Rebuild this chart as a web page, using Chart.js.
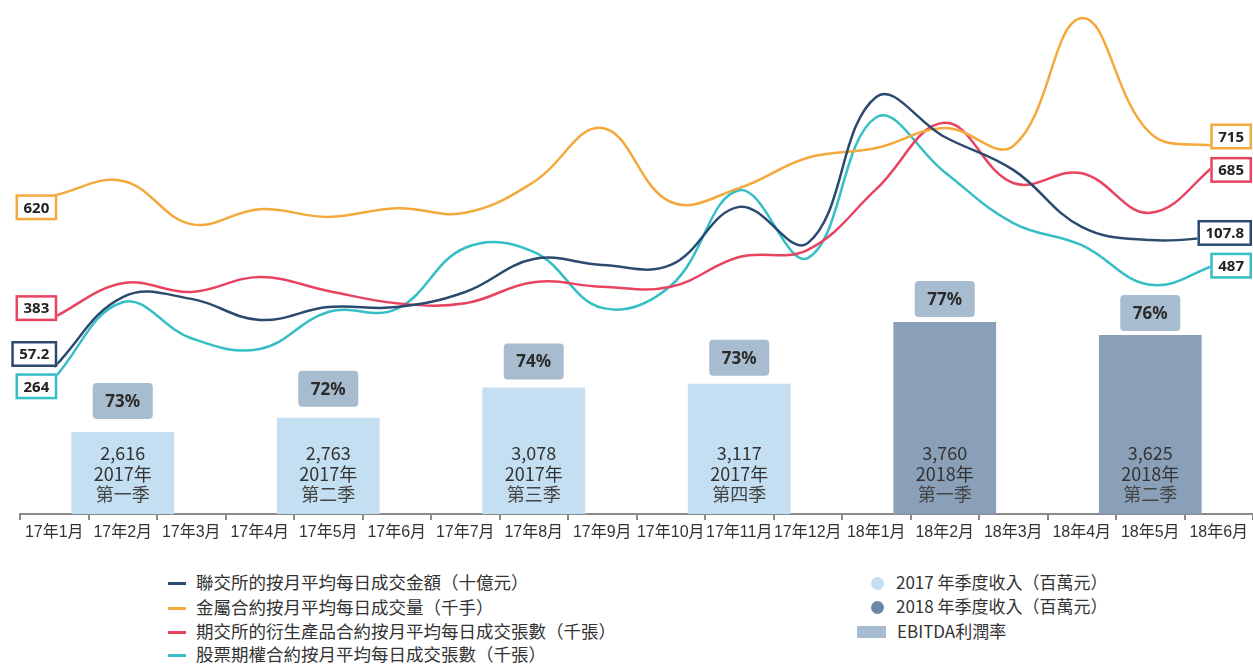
<!DOCTYPE html>
<html>
<head>
<meta charset="utf-8">
<script src="https://cdn.jsdelivr.net/npm/chart.js@4.4.0/dist/chart.umd.min.js"></script>
<style>
  body { margin: 0; background: #fff; font-family: "Noto Sans CJK TC", "Noto Sans", sans-serif; color: #333; }
  #wrap { position: relative; width: 1253px; height: 664px; overflow: hidden; }
  #box { position: absolute; left: 0; top: 0; width: 1253px; height: 550px; }
  .leg { position: absolute; white-space: nowrap; height: 24px; line-height: 24px; }
  .leg.left { left: 168px; font-size: 17.5px; }
  .leg.right { left: 852px; font-size: 17px; }
  .sw-line { display: inline-block; width: 18px; height: 3px; vertical-align: middle; margin-right: 10px; position: relative; top: -1px; }
  .sw-dot { display: inline-block; width: 13px; height: 13px; border-radius: 50%; vertical-align: middle; margin: 0 12px 0 19px; position: relative; top: -1px; }
  .sw-rect { display: inline-block; width: 29px; height: 12px; vertical-align: middle; margin: 0 11px 0 5px; position: relative; top: -1px; }
</style>
</head>
<body>
<div id="wrap">
  <div id="box"><canvas id="myChart"></canvas></div>

  <div class="leg left" style="top:570px"><span class="sw-line" style="background:#2b4a6f"></span>聯交所的按月平均每日成交金額（十億元）</div>
  <div class="leg left" style="top:595px"><span class="sw-line" style="background:#f3a93b"></span>金屬合約按月平均每日成交量（千手）</div>
  <div class="leg left" style="top:619px"><span class="sw-line" style="background:#e84461"></span>期交所的衍生產品合約按月平均每日成交張數（千張）</div>
  <div class="leg left" style="top:642px"><span class="sw-line" style="background:#35bec5"></span>股票期權合約按月平均每日成交張數（千張）</div>

  <div class="leg right" style="top:570px"><span class="sw-dot" style="background:#c4dff1"></span>2017 年季度收入（百萬元）</div>
  <div class="leg right" style="top:594px"><span class="sw-dot" style="background:#6a87a8"></span>2018 年季度收入（百萬元）</div>
  <div class="leg right" style="top:619px"><span class="sw-rect" style="background:#a7bccf"></span>EBITDA利潤率</div>
</div>

<script>
// monthly categories
const months = ['17年1月', '17年2月', '17年3月', '17年4月', '17年5月', '17年6月',
    '17年7月', '17年8月', '17年9月', '17年10月', '17年11月', '17年12月',
    '18年1月', '18年2月', '18年3月', '18年4月', '18年5月', '18年6月'];

// line series
const turnover = [57.2, 84.4, 83.7, 75.5, 80.5, 80.5, 86.4, 99.2, 96.9, 96.9, 119.5, 105.4, 162.3, 146.7, 133.9, 111.7, 106.6, 107.8];
const metals = [620, 648, 564, 593, 578, 595, 586, 646, 751, 607, 634, 693, 712, 751, 716, 965, 741, 715];
const hkfe = [383, 449, 432, 461, 434, 410, 410, 451, 442, 442, 500, 514, 632, 761, 644, 663, 586, 685];
const stockOptions = [264, 412, 342, 321, 393, 399, 518, 510, 401, 444, 630, 498, 772, 665, 566, 523, 446, 487];

// quarterly bars
const quarters = ['2017Q1', '2017Q2', '2017Q3', '2017Q4', '2018Q1', '2018Q2'];
const quarterYears = ['2017年', '2017年', '2017年', '2017年', '2018年', '2018年'];
const quarterNames = ['第一季', '第二季', '第三季', '第四季', '第一季', '第二季'];
const revenue = [2616, 2763, 3078, 3117, 3760, 3625];
const ebitda = [73, 72, 74, 73, 77, 76];

const barColors = quarterYears.map(y => y === '2017年' ? '#c4dff1' : '#8aa0b8');

function drawBox(ctx, text, rightX, cy, color) {
    const w = ctx.measureText(text).width + 16;
    const h = 26;
    const x = rightX - w;
    const y = cy - h / 2;
    ctx.fillStyle = '#fff';
    ctx.fillRect(x, y, w, h);
    ctx.lineWidth = 2.5;
    ctx.strokeStyle = color;
    ctx.strokeRect(x + 1.25, y + 1.25, w - 2.5, h - 2.5);
    ctx.fillStyle = '#222';
    ctx.fillText(text, x + w / 2, cy + 1);
}

// first / last value boxes on each line
const endLabels = {
    id: 'endLabels',
    afterDatasetsDraw(chart, args, opts) {
        const ctx = chart.ctx;
        ctx.save();
        ctx.font = 'bold 15px "Noto Sans", sans-serif';
        ctx.textAlign = 'center';
        ctx.textBaseline = 'middle';
        chart.data.datasets.forEach((ds, i) => {
            if (ds.type !== 'line') return;
            const pts = chart.getDatasetMeta(i).data;
            const first = pts[0];
            const last = pts[pts.length - 1];
            const off = opts.offsets[i];
            drawBox(ctx, String(ds.data[0]), first.x + 3, first.y + off[0], ds.borderColor);
            drawBox(ctx, String(ds.data[ds.data.length - 1]), chart.chartArea.right - 1, last.y + off[1], ds.borderColor);
        });
        ctx.restore();
    }
};

// revenue text inside bars + EBITDA margin boxes above
const barLabels = {
    id: 'barLabels',
    afterDatasetsDraw(chart, args, opts) {
        const ctx = chart.ctx;
        const idx = chart.data.datasets.findIndex(d => d.type === 'bar');
        const bars = chart.getDatasetMeta(idx).data;
        const bottom0 = chart.chartArea.bottom;
        ctx.save();
        ctx.textAlign = 'center';
        ctx.textBaseline = 'middle';
        bars.forEach((b, i) => {
            ctx.fillStyle = '#333';
            ctx.font = '18px "Noto Sans CJK TC", sans-serif';
            ctx.fillText(revenue[i].toLocaleString('en-US'), b.x, bottom0 - 61);
            ctx.fillText(quarterYears[i], b.x, bottom0 - 40);
            ctx.fillStyle = '#444';
            ctx.fillText(quarterNames[i], b.x, bottom0 - 20);

            const bw = 60, bh = 36;
            const bottom = b.y - opts.gaps[i];
            ctx.fillStyle = '#a7bccf';
            ctx.beginPath();
            ctx.roundRect(b.x - bw / 2, bottom - bh, bw, bh, 4);
            ctx.fill();
            ctx.fillStyle = '#2a2a2a';
            ctx.font = 'bold 17px "Noto Sans", sans-serif';
            ctx.fillText(ebitda[i] + '%', b.x, bottom - bh / 2 + 1);
        });
        ctx.restore();
    }
};

const lineStyle = { type: 'line', borderWidth: 2.5, pointRadius: 0, tension: 0.4, fill: false, order: 1 };

const ctx = document.getElementById('myChart').getContext('2d');
const myChart = new Chart(ctx, {
    data: {
        labels: months,
        datasets: [
            { ...lineStyle, label: '聯交所的按月平均每日成交金額（十億元）', data: turnover, borderColor: '#2b4a6f', yAxisID: 'yB' },
            { ...lineStyle, label: '金屬合約按月平均每日成交量（千手）', data: metals, borderColor: '#f3a93b', yAxisID: 'yK' },
            { ...lineStyle, label: '期交所的衍生產品合約按月平均每日成交張數（千張）', data: hkfe, borderColor: '#e84461', yAxisID: 'yK' },
            { ...lineStyle, label: '股票期權合約按月平均每日成交張數（千張）', data: stockOptions, borderColor: '#35bec5', yAxisID: 'yK' },
            {
                type: 'bar',
                label: '季度收入',
                data: revenue,
                backgroundColor: barColors,
                xAxisID: 'xQ',
                yAxisID: 'yR',
                grouped: false,
                barPercentage: 0.5,
                categoryPercentage: 1,
                order: 10
            }
        ]
    },
    options: {
        responsive: true,
        maintainAspectRatio: false,
        animation: false,
        layout: { padding: { left: 20, right: 0, top: 0, bottom: 0 } },
        plugins: {
            legend: { display: false },
            tooltip: { enabled: false },
            endLabels: { offsets: [[-13, -4], [12, -10], [-9, 8], [8, 2]] },
            barLabels: { gaps: [13, 11, 8, 8, 5, 4] }
        },
        scales: {
            x: {
                type: 'category',
                offset: true,
                grid: { offset: true, drawOnChartArea: false, drawTicks: true, tickLength: 6, color: '#8a8a8a', lineWidth: 2 },
                border: { display: true, color: '#8a8a8a', width: 2 },
                ticks: {
                    autoSkip: false, maxRotation: 0, minRotation: 0, padding: 3,
                    color: '#333',
                    font: { family: '"Liberation Sans", "Noto Sans CJK TC", sans-serif', size: 16 }
                },
                afterFit: (scale) => { scale.height = 36; }
            },
            xQ: { type: 'category', labels: quarters, offset: true, display: false },
            yK: { display: false, min: 0, max: 1000 },
            yB: { display: false, min: 0, max: 200 },
            yR: { display: false, min: 1763, max: 7110 }
        }
    },
    plugins: [endLabels, barLabels]
});
</script>
</body>
</html>
